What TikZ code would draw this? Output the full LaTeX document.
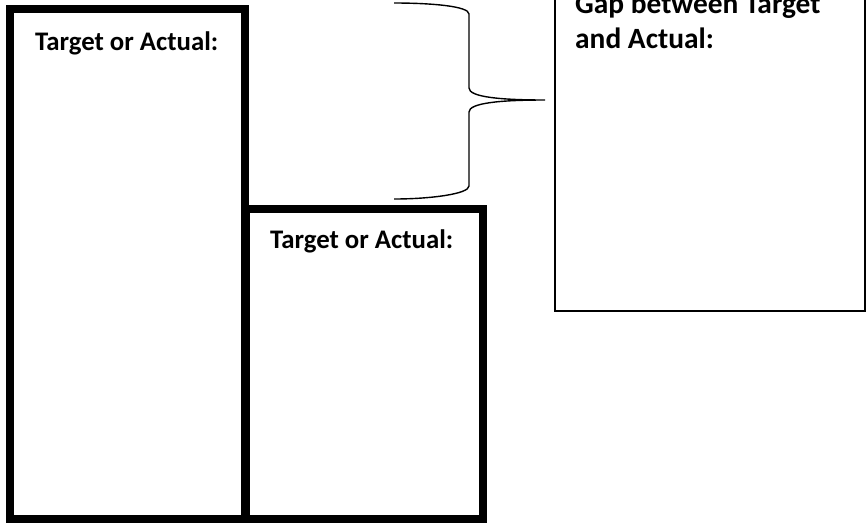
\documentclass[tikz,border=0pt]{standalone}
\usepackage{fontspec}
\setmainfont{Carlito}
\begin{document}
\begin{tikzpicture}[x=1pt,y=-1pt,
  thickbox/.style={draw=black,line width=8pt},
  thinbox/.style={draw=black,line width=2pt},
  bracepath/.style={draw=black,line width=1.4pt},
  lbl/.style={anchor=base west,inner sep=0pt,font=\bfseries\fontsize{26.8}{32}\selectfont},
  glbl/.style={anchor=base west,inner sep=0pt,font=\bfseries\fontsize{29.4}{35}\selectfont}]
\useasboundingbox (0,0) rectangle (867,523);
\clip (0,0) rectangle (867,523);
% boxes
\draw[thickbox] (10,9) rectangle (245,519);
\draw[thickbox] (245.5,209) rectangle (482.5,519);
\draw[thinbox] (555,-10) rectangle (865,311);
% labels
\node[lbl] (t1) at (35,50) {Target or Actual:};
\node[lbl] (t2) at (270,248) {Target or Actual:};
\node[glbl] (g1) at (575,13) {Gap between Target};
\node[glbl] (g2) at (575,48) {and Actual:};
% brace
\coordinate (btop) at (394,3);
\coordinate (btip) at (545,100);
\coordinate (bbot) at (394,199);
\draw[bracepath] (btop) .. controls (430,3) and (469,6) .. (469,14)
  -- (469,88) .. controls (469,97) and (500,100) .. (btip)
  .. controls (500,100) and (469,103) .. (469,112)
  -- (469,186) .. controls (469,194) and (430,199) .. (bbot);
\end{tikzpicture}
\end{document}
